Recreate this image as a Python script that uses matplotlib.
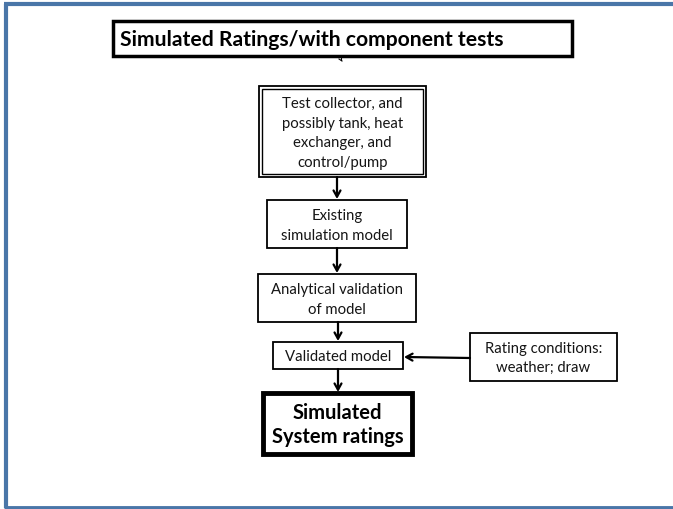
import matplotlib
matplotlib.use("Agg")
import matplotlib.pyplot as plt
from matplotlib.patches import Rectangle

plt.rcParams['font.family'] = ['Lato', 'DejaVu Sans']

title_text = "Simulated Ratings/with component tests"
step_labels = [
    "Test collector, and\npossibly tank, heat\nexchanger, and\ncontrol/pump",
    "Existing\nsimulation model",
    "Analytical validation\nof model",
    "Validated model",
]
final_label = "Simulated\nSystem ratings"
side_label = "Rating conditions:\nweather; draw"

W, H = 673, 510
fig = plt.figure(figsize=(W / 100, H / 100), dpi=100)
ax = fig.add_axes([0, 0, 1, 1])
ax.set_xlim(0, W)
ax.set_ylim(H, 0)
ax.axis('off')

blue = '#4a76a8'
# slide frame (left, top, bottom)
ax.plot([5.5, 5.5], [4.5, 508.5], color=blue, lw=3, solid_capstyle='butt')
ax.plot([4, W], [4.5, 4.5], color=blue, lw=3, solid_capstyle='butt')
ax.plot([4, W], [508.5, 508.5], color=blue, lw=3.5, solid_capstyle='butt')


def box(x0, y0, x1, y1, lw=1.3):
    ax.add_patch(Rectangle((x0, y0), x1 - x0, y1 - y0, fill=False,
                           edgecolor='black', lw=lw, joinstyle='miter'))


def arrow(x0, y0, x1, y1):
    ax.annotate('', xy=(x1, y1), xytext=(x0, y0),
                arrowprops=dict(arrowstyle='->,head_length=0.45,head_width=0.25',
                                color='black', lw=1.6, shrinkA=0, shrinkB=0))


# title box
box(113, 22, 572, 57, lw=2.5)
ax.text(120, 40, title_text, ha='left', va='center', fontsize=15.2,
        fontweight='bold', color='black')
ax.plot([341, 341], [57, 61], color='black', lw=0.8)
ax.plot([339, 342], [60, 62], color='black', lw=0.8)

# step boxes
boxes = [
    (259, 87, 426, 178),
    (267, 201, 407, 249),
    (258, 275, 416, 323),
    (273, 343, 403, 370),
]
for (x0, y0, x1, y1), lab in zip(boxes, step_labels):
    box(x0, y0, x1, y1)
    ax.text((x0 + x1) / 2, (y0 + y1) / 2 + 1, lab, ha='center', va='center',
            fontsize=10.7, linespacing=1.5, color='#151515')
# double border for first box
box(262, 90, 423, 175, lw=1.0)

# final box
box(263, 394, 412, 455, lw=3.5)
ax.text(337.5, 425, final_label, ha='center', va='center', fontsize=14.5,
        fontweight='bold', linespacing=1.25, color='black')

# side box
box(470, 334, 617, 382)
ax.text(543.5, 358.5, side_label, ha='center', va='center', fontsize=10.7,
        linespacing=1.5, color='#151515')

# arrows
arrow(337, 178, 337, 200)
arrow(337, 249, 337, 274)
arrow(338, 323, 338, 342)
arrow(338, 370, 338, 393)
arrow(470, 359, 404, 358)

fig.savefig('out.png', dpi=100, facecolor='white')
